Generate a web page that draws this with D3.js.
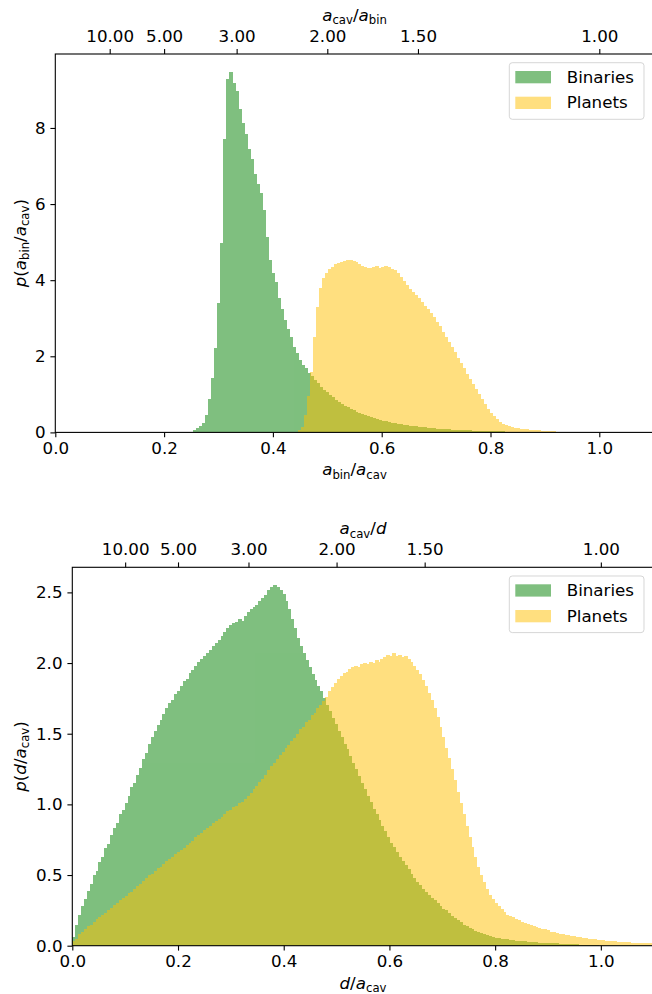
<!DOCTYPE html>
<html>
<head>
<meta charset="utf-8">
<script src="https://cdn.jsdelivr.net/npm/d3@7"></script>
<style>
  body { margin: 0; background: #fff; }
  svg { display: block; }
  text { font-family: "DejaVu Sans", sans-serif; fill: #000; }
</style>
</head>
<body>
<div id="chart"></div>
<script>
// ---- data --------------------------------------------------------------
// Histogram bins are BIN_WIDTH wide, bin i spans [i*BIN_WIDTH, (i+1)*BIN_WIDTH].
const BIN_WIDTH = 0.0055;
const seriesNames = ["Binaries", "Planets"];

const xTickValues = [0, 0.2, 0.4, 0.6, 0.8, 1.0];
const topTickRatios = [10, 5, 3, 2, 1.5, 1];   // secondary axis shows 1/x
const abinYTicks = [0, 2, 4, 6, 8];
const dYTicks = [0, 0.5, 1.0, 1.5, 2.0, 2.5];

// p(a_bin / a_cav)
const abinBinariesStart = 46;
const abinBinaries = [
  0.07,0.11,0.16,0.25,0.46,0.88,1.43,2.21,3.40,4.99,
  7.70,9.28,9.47,9.17,8.98,8.51,8.14,7.84,7.45,7.19,
  6.79,6.53,6.28,5.85,5.14,4.53,4.18,3.94,3.53,3.24,
  2.96,2.71,2.52,2.24,2.08,1.89,
  1.78,1.68,1.57,1.47,1.38,1.29,1.20,1.12,1.05,0.98,
  0.92,0.86,0.80,0.75,0.70,0.66,0.62,0.58,0.54,0.51,
  0.48,0.45,0.42,0.40,0.37,0.35,0.33,0.31,0.29,0.27,
  0.26,0.24,0.23,0.21,0.20,0.19,0.18,0.17,0.16,0.15,
  0.14,0.13,0.12,0.115,0.11,0.10,0.095,0.09,0.085,0.08,
  0.075,0.07,0.065,0.06,0.057,0.054,0.05,0.047,0.044,0.041,
  0.038,0.036,0.034,0.032,0.030,0.028,0.026,0.024,0.022,0.021,
  0.019,0.018,0.017,0.016,0.015,0.014,0.013,0.012,0.011,0.010,
  0.009,0.009,0.008,0.007,0.007,0.006,0.006,0.005,0.005,0.004,
  0.004,0.003,0.003,0.002
];
const abinPlanetsStart = 80;
const abinPlanets = [
  0.02,0.05,0.15,0.45,0.95,1.60,2.50,3.30,3.80,4.05,
  4.20,4.30,4.35,4.42,4.45,4.48,4.50,4.52,4.53,4.50,
  4.47,4.42,4.38,4.35,4.33,4.32,4.34,4.36,4.33,4.35,
  4.37,4.34,4.30,4.27,4.18,4.08,3.98,3.88,3.78,3.70,
  3.60,3.52,3.43,3.33,3.24,3.13,3.02,2.90,2.79,2.65,
  2.52,2.38,2.24,2.10,1.96,1.82,1.68,1.54,1.40,1.27,
  1.13,1.00,0.87,0.74,0.62,0.51,0.42,0.34,0.28,0.23,
  0.19,0.16,0.14,0.12,0.11,0.10,0.09,0.08,0.07,0.065,
  0.06,0.05,0.045,0.04,0.035,0.03,0.025,0.02,0.018,0.015,
  0.012,0.01,0.008,0.006
];

// p(d / a_cav)
const dBinariesStart = 0;
const dBinaries = [
  0.06,0.15,0.22,0.28,0.33,0.39,0.44,0.50,0.53,0.59,
  0.63,0.69,0.72,0.78,0.83,0.87,0.93,0.96,1.01,1.06,
  1.12,1.15,1.21,1.26,1.32,1.36,1.43,1.48,1.52,1.56,
  1.60,1.64,1.68,1.72,1.74,1.78,1.80,1.84,1.87,1.89,
  1.93,1.95,1.98,2.01,2.03,2.05,2.07,2.09,2.12,2.14,
  2.16,2.19,2.22,2.25,2.27,2.28,2.29,2.31,2.30,2.33,
  2.36,2.38,2.40,2.41,2.44,2.46,2.48,2.52,2.54,2.55,
  2.54,2.52,2.49,2.44,2.38,2.31,2.25,2.18,2.12,2.07,
  2.02,1.97,1.92,1.88,1.84,1.80,1.75,1.70,1.66,1.61,
  1.57,1.52,1.48,1.43,1.39,1.34,1.29,1.25,1.20,1.15,
  1.11,1.06,1.02,0.97,0.93,0.89,0.85,0.81,0.77,0.73,
  0.70,0.66,0.63,0.60,0.57,0.54,0.51,0.48,0.45,0.43,
  0.40,0.38,0.36,0.34,0.32,0.30,0.28,0.26,0.25,0.23,
  0.21,0.195,0.18,0.165,0.15,0.14,0.125,0.115,0.105,0.095,
  0.088,0.08,0.074,0.068,0.063,0.058,0.054,0.05,0.047,0.044,
  0.041,0.038,0.036,0.034,0.032,0.03,0.028,0.027,0.025,0.024,
  0.022,0.021,0.02,0.019,0.018,0.017,0.016,0.015,0.014,0.013,
  0.012,0.011,0.01,0.009,0.008,0.008,0.007,0.006,0.005,0.005,
  0.004
];
const dPlanetsStart = 0;
const dPlanets = [
  0.03,0.05,0.08,0.10,0.12,0.14,0.15,0.17,0.19,0.20,
  0.22,0.23,0.25,0.27,0.29,0.30,0.32,0.34,0.35,0.37,
  0.38,0.40,0.42,0.44,0.46,0.48,0.50,0.51,0.53,0.55,
  0.56,0.58,0.60,0.61,0.63,0.65,0.66,0.68,0.69,0.71,
  0.73,0.74,0.77,0.78,0.80,0.82,0.83,0.85,0.87,0.88,
  0.90,0.91,0.93,0.95,0.96,0.98,0.99,1.01,1.02,1.04,
  1.06,1.08,1.11,1.13,1.16,1.18,1.21,1.24,1.27,1.29,
  1.32,1.35,1.37,1.40,1.42,1.45,1.47,1.50,1.53,1.55,
  1.58,1.60,1.63,1.65,1.68,1.70,1.73,1.76,1.80,1.83,
  1.86,1.89,1.91,1.93,1.94,1.96,1.97,1.98,1.97,1.99,
  2.00,1.99,2.01,2.00,2.02,2.01,2.03,2.04,2.06,2.05,
  2.07,2.05,2.06,2.04,2.05,2.03,2.01,1.98,1.95,1.92,
  1.88,1.84,1.79,1.74,1.68,1.62,1.55,1.48,1.40,1.33,
  1.25,1.17,1.09,1.01,0.93,0.85,0.77,0.70,0.63,0.56,
  0.50,0.45,0.40,0.36,0.33,0.30,0.28,0.26,0.24,0.22,
  0.21,0.20,0.19,0.18,0.17,0.16,0.155,0.15,0.14,0.135,
  0.125,0.12,0.115,0.11,0.10,0.095,0.09,0.085,0.08,0.077,
  0.073,0.07,0.066,0.062,0.06,0.056,0.053,0.05,0.047,0.045,
  0.043,0.04,0.038,0.036,0.034,0.032,0.03,0.029,0.027,0.026,
  0.024,0.023,0.022,0.021,0.02,0.019,0.018,0.017,0.016,0.015
];

// ---- styling -----------------------------------------------------------
const W = 652, H = 994;
const FONT = 16.7;
const SUB = FONT * 0.7;
const SUB_SHIFT = 3.2;
const TICK = 4.9;
const seriesColors = ["#008000", "#ffbf00"];
const AXIS_RIGHT = 653.7;
const PLOT_H = 378.4;

const panels = [
  {
    left: 55.3, top: 54,
    series: [[abinBinariesStart, abinBinaries], [abinPlanetsStart, abinPlanets]],
    yTicks: abinYTicks, yFormat: d3.format("d"),
    topLabel: [["a", "i"], ["cav", "s"], ["/", "r"], ["a", "i"], ["bin", "s"]],
    xLabel: [["a", "i"], ["bin", "s"], ["/", "r"], ["a", "i"], ["cav", "s"]],
    yLabel: [["p", "i"], ["(", "r"], ["a", "i"], ["bin", "s"], ["/", "r"], ["a", "i"], ["cav", "s"], [")", "r"]]
  },
  {
    left: 72.3, top: 567.3,
    series: [[dBinariesStart, dBinaries], [dPlanetsStart, dPlanets]],
    yTicks: dYTicks, yFormat: d3.format(".1f"),
    topLabel: [["a", "i"], ["cav", "s"], ["/", "r"], ["d", "i"]],
    xLabel: [["d", "i"], ["/", "r"], ["a", "i"], ["cav", "s"]],
    yLabel: [["p", "i"], ["(", "r"], ["d", "i"], ["/", "r"], ["a", "i"], ["cav", "s"], [")", "r"]]
  }
];

// Writes a math-style label: italic symbols, upright subscripts.
function mathText(textSel, tokens) {
  let lowered = false;
  tokens.forEach(([t, kind]) => {
    const ts = textSel.append("tspan").text(t);
    if (kind === "s") {
      ts.attr("font-size", SUB);
      if (!lowered) { ts.attr("dy", SUB_SHIFT); lowered = true; }
    } else {
      ts.attr("font-size", FONT);
      if (kind === "i") ts.attr("font-style", "italic");
      if (lowered) { ts.attr("dy", -SUB_SHIFT); lowered = false; }
    }
  });
}

function styleAxis(g) {
  g.attr("font-family", "DejaVu Sans, sans-serif").attr("font-size", FONT);
  g.select(".domain").remove();
  g.selectAll(".tick line").attr("stroke", "#000").attr("stroke-width", 1.1);
  g.selectAll(".tick text").attr("fill", "#000");
}

const svg = d3.select("#chart").append("svg")
  .attr("width", W).attr("height", H);

panels.forEach((p, pi) => {
  const bottom = p.top + PLOT_H;
  const x = d3.scaleLinear().domain([0, 1.1]).range([p.left, AXIS_RIGHT]);
  const allVals = p.series.flatMap(s => s[1]);
  const y = d3.scaleLinear().domain([0, d3.max(allVals) * 1.05]).range([bottom, p.top]);

  const clipId = "clip" + pi;
  svg.append("clipPath").attr("id", clipId)
    .append("rect").attr("x", p.left).attr("y", p.top)
    .attr("width", AXIS_RIGHT - p.left).attr("height", PLOT_H);

  // histogram bars, one translucent layer per series
  p.series.forEach(([start, values], si) => {
    const bins = values.map((v, k) => ({
      x0: (start + k) * BIN_WIDTH, x1: (start + k + 1) * BIN_WIDTH, v
    }));
    svg.append("g")
      .attr("clip-path", `url(#${clipId})`)
      .attr("opacity", 0.5)
      .attr("fill", seriesColors[si])
      .attr("shape-rendering", "crispEdges")
      .selectAll("rect").data(bins).join("rect")
      .attr("x", d => x(d.x0))
      .attr("width", d => x(d.x1) - x(d.x0) + 1)
      .attr("y", d => y(d.v))
      .attr("height", d => y(0) - y(d.v));
  });

  // frame
  svg.append("rect")
    .attr("x", p.left).attr("y", p.top)
    .attr("width", AXIS_RIGHT - p.left).attr("height", PLOT_H)
    .attr("fill", "none").attr("stroke", "#000").attr("stroke-width", 1.1);

  // axes
  svg.append("g").attr("transform", `translate(0,${bottom})`)
    .call(d3.axisBottom(x).tickValues(xTickValues).tickFormat(d3.format(".1f"))
      .tickSize(TICK).tickPadding(TICK).tickSizeOuter(0))
    .call(styleAxis);

  svg.append("g").attr("transform", `translate(${p.left},0)`)
    .call(d3.axisLeft(y).tickValues(p.yTicks).tickFormat(p.yFormat)
      .tickSize(TICK).tickPadding(TICK).tickSizeOuter(0))
    .call(styleAxis);

  svg.append("g").attr("transform", `translate(0,${p.top})`)
    .call(d3.axisTop(x).tickValues(topTickRatios.map(r => 1 / r))
      .tickFormat((d, i) => d3.format(".2f")(topTickRatios[i]))
      .tickSize(TICK).tickPadding(7.4).tickSizeOuter(0))
    .call(styleAxis);

  // axis labels
  const cx = (p.left + AXIS_RIGHT) / 2;
  mathText(svg.append("text").attr("x", cx).attr("y", p.top - 33)
    .attr("text-anchor", "middle"), p.topLabel);
  mathText(svg.append("text").attr("x", cx).attr("y", bottom + 43)
    .attr("text-anchor", "middle"), p.xLabel);
  mathText(svg.append("text")
    .attr("transform", `translate(26,${(p.top + bottom) / 2}) rotate(-90)`)
    .attr("text-anchor", "middle"), p.yLabel);

  // legend
  const lg = svg.append("g").attr("transform", `translate(509.3,${p.top + 8.7})`);
  lg.append("rect").attr("width", 134.7).attr("height", 56.6).attr("rx", 3)
    .attr("fill", "#fff").attr("fill-opacity", 0.8)
    .attr("stroke", "#ccc").attr("stroke-opacity", 0.8).attr("stroke-width", 1);
  seriesNames.forEach((name, si) => {
    const row = lg.append("g").attr("transform", `translate(0,${si * 25.7})`);
    row.append("rect").attr("x", 6).attr("y", 8.3).attr("width", 35.7).attr("height", 12.3)
      .attr("fill", seriesColors[si]).attr("opacity", 0.5);
    row.append("text").attr("x", 57.4).attr("y", 19.9)
      .attr("font-size", FONT).text(name);
  });
});
</script>
</body>
</html>
